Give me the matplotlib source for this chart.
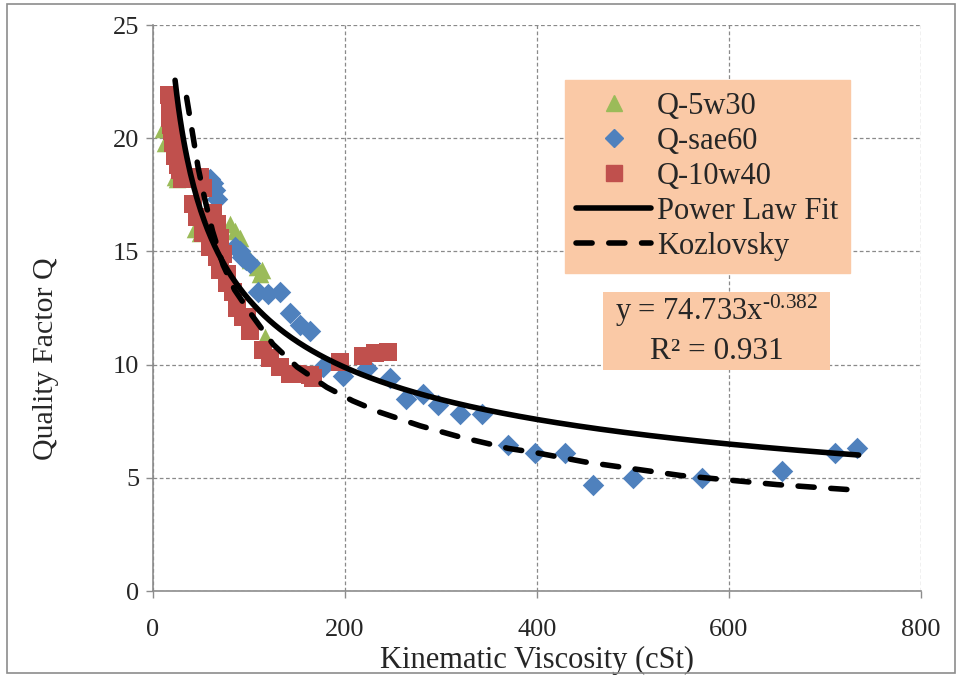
import matplotlib
matplotlib.use("Agg")
import matplotlib.pyplot as plt
import numpy as np
from matplotlib.lines import Line2D
from matplotlib.patches import Rectangle

# --- measured data -------------------------------------------------------
x_5w30 = [10, 13, 23, 25, 44, 49, 80, 85, 91, 101, 108, 111, 114, 117]
q_5w30 = [20.4, 19.8, 18.3, 18.2, 16.0, 15.8, 16.2, 15.9, 15.6, 14.6, 14.3, 14.0, 14.2, 11.2]

x_sae60 = [59, 63, 65, 67, 85, 91, 93, 97, 101, 109, 120, 132, 143, 153, 164,
           177, 198, 223, 247, 264, 281, 297, 320, 343, 370, 398, 429, 458,
           500, 572, 655, 710, 733]
q_sae60 = [18.2, 18.0, 17.7, 17.3, 15.2, 15.0, 14.75, 14.6, 14.5, 13.2, 13.1, 13.2, 12.3, 11.75, 11.5,
           9.9, 9.5, 9.85, 9.4, 8.5, 8.7, 8.2, 7.8, 7.8, 6.45, 6.1, 6.1, 4.7,
           5.0, 5.0, 5.3, 6.1, 6.3]

x_10w40 = [17, 18, 18, 19, 20, 21, 23, 26, 28, 30, 42, 46, 49, 52, 52, 59, 62, 67, 67, 70,
           70, 73, 77, 77, 83, 87, 94, 98, 101, 115, 122, 132, 143, 150, 164, 167,
           195, 219, 231, 245]
q_10w40 = [21.9, 21.5, 20.9, 20.6, 20.3, 19.8, 19.2, 18.8, 18.6, 18.2, 17.1, 16.5, 18.3, 17.8, 15.8, 15.2, 16.7, 16.2, 14.75, 15.6,
           14.2, 14.9, 14.0, 13.6, 13.2, 12.5, 12.1, 12.1, 11.5, 10.65, 10.3, 9.9, 9.6, 9.6, 9.55, 9.4,
           10.1, 10.4, 10.5, 10.55]

# Kozlovsky model curve
x_koz = [35, 42, 47, 54, 62, 73, 85, 101, 125, 150, 181, 208, 236, 278, 320,
         370, 400, 450, 500, 550, 600, 650, 700, 735]
q_koz = [21.8, 20.0, 18.7, 17.3, 15.9, 14.4, 13.3, 12.3, 10.9, 9.9, 9.0, 8.4, 7.9, 7.3, 6.8,
         6.3, 6.1, 5.7, 5.4, 5.1, 4.9, 4.7, 4.55, 4.45]

# power-law fit  y = a * x^b
fit_a = 74.733
fit_b = -0.382
fit_r2 = 0.931
fit_xmin, fit_xmax = 23, 735

x_ticks = [0, 200, 400, 600, 800]
y_ticks = [0, 5, 10, 15, 20, 25]

# --- styling ---------------------------------------------------------------
plt.rcParams['font.family'] = ['Liberation Serif', 'DejaVu Serif']
plt.rcParams['mathtext.fontset'] = 'custom'
plt.rcParams['mathtext.rm'] = 'Liberation Serif'
plt.rcParams['mathtext.it'] = 'Liberation Serif:italic'

GREEN = '#9BBB59'
BLUE = '#4F81BD'
RED = '#C0504D'
PEACH = '#FAC9A6'
GRID = '#8a8a8a'
TXT = '#262626'
LW = 4.0
KOZ_DASH = (0, (2.9, 3.0))

fig = plt.figure(figsize=(9.6, 6.76), dpi=100)
ax = fig.add_axes([153 / 960, 85 / 676, 768 / 960, 566 / 676])

ax.scatter(x_5w30, q_5w30, marker='^', s=160, color=GREEN, linewidths=0, zorder=3)
ax.scatter(x_sae60, q_sae60, marker='D', s=120, color=BLUE, linewidths=0, zorder=4)
ax.scatter(x_10w40, q_10w40, marker='s', s=160, color=RED, linewidths=0, zorder=5)

xf = np.linspace(fit_xmin, fit_xmax, 400)
ax.plot(xf, fit_a * xf ** fit_b, color='black', lw=LW, solid_capstyle='round', zorder=6)
ax.plot(x_koz, q_koz, color='black', lw=LW, linestyle=KOZ_DASH,
        dash_capstyle='round', zorder=6)

ax.set_xlim(0, 800)
ax.set_ylim(0, 25)
ax.set_xticks(x_ticks)
ax.set_yticks(y_ticks)
ax.grid(True, color=GRID, linestyle=(0, (3, 2)), linewidth=0.9, zorder=0)
ax.set_axisbelow(True)

for side in ['top', 'right']:
    ax.spines[side].set_visible(False)
for side in ['left', 'bottom']:
    ax.spines[side].set_color('#8c8c8c')
    ax.spines[side].set_linewidth(1.2)

ax.tick_params(axis='both', direction='out', length=5, width=1, color='#8c8c8c',
               labelsize=19, labelcolor=TXT)
ax.tick_params(axis='x', pad=15)
ax.tick_params(axis='y', pad=5)

ax.set_xlabel('Kinematic Viscosity (cSt)', fontsize=22, color=TXT)
ax.set_ylabel('Quality Factor Q', fontsize=21.5, color=TXT)
ax.xaxis.set_label_coords(0.5, -0.122)
ax.yaxis.set_label_coords(-0.139, 0.41)
ax.xaxis.label.set_va('center')
ax.yaxis.label.set_va('center')

handles = [
    Line2D([], [], marker='^', color=GREEN, linestyle='none', markersize=12),
    Line2D([], [], marker='D', color=BLUE, linestyle='none', markersize=9),
    Line2D([], [], marker='s', color=RED, linestyle='none', markersize=11.5),
    Line2D([], [], color='black', lw=LW, solid_capstyle='round'),
    Line2D([], [], color='black', lw=LW, linestyle=KOZ_DASH, dash_capstyle='round'),
]
labels = ['Q-5w30', 'Q-sae60', 'Q-10w40', 'Power Law Fit', 'Kozlovsky']
leg = ax.legend(handles, labels, loc='upper left', bbox_to_anchor=(0.536, 0.903),
                frameon=True, fancybox=False, facecolor=PEACH, edgecolor=PEACH,
                framealpha=1, fontsize=22, handlelength=2.45, handletextpad=0.2,
                labelspacing=0.2, borderpad=0.38, borderaxespad=0)
for t in leg.get_texts():
    t.set_color(TXT)
leg.set_zorder(10)

# equation box
ax.add_patch(Rectangle((0.586, 0.390), 0.296, 0.138, transform=ax.transAxes,
                       facecolor=PEACH, edgecolor='none', zorder=9))
ax.text(0.734, 0.494, r'y = %.3fx$^{\text{%.3f}}$' % (fit_a, fit_b), transform=ax.transAxes,
        ha='center', va='center', fontsize=22, color=TXT, zorder=11)
ax.text(0.734, 0.424, 'R\u00b2 = %.3f' % fit_r2, transform=ax.transAxes,
        ha='center', va='center', fontsize=22.5, color=TXT, zorder=11)

# chart border
fig.patches.append(Rectangle((7 / 960, 3 / 676), 948 / 960, 669 / 676,
                             transform=fig.transFigure, fill=False,
                             edgecolor='#8c8c8c', linewidth=1.2))

fig.savefig('out.png', dpi=100)
